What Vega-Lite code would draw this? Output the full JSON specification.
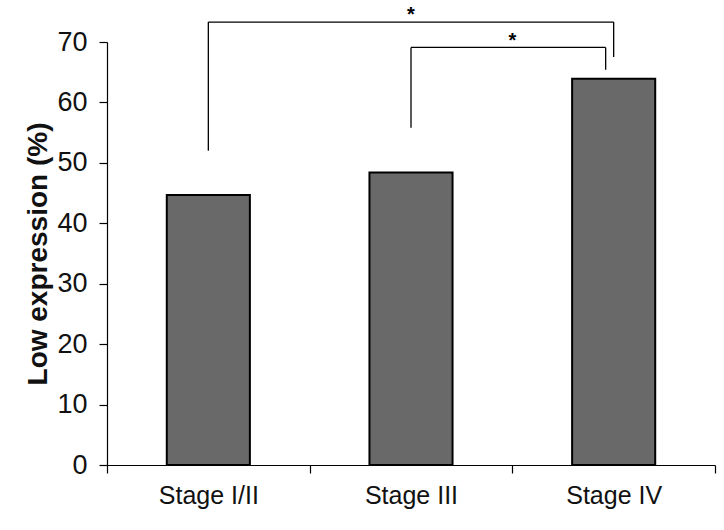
{
  "$schema": "https://vega.github.io/schema/vega-lite/v6.json",
  "width": 608,
  "height": 423,
  "autosize": {"type": "none"},
  "padding": {"left": 107, "top": 42, "right": 9, "bottom": 65},
  "background": "white",
  "config": {
    "view": {"stroke": null},
    "font": "Liberation Sans",
    "axis": {"grid": false, "domainColor": "#000", "tickColor": "#000", "labelColor": "#111", "titleColor": "#111", "domainWidth": 1.2, "tickWidth": 1.2}
  },
  "datasets": {
    "bars": [
      {"stage": "Stage I/II", "value": 44.7},
      {"stage": "Stage III", "value": 48.4},
      {"stage": "Stage IV", "value": 63.9}
    ],
    "hlines": [
      {"from": "Stage I/II", "to": "Stage IV", "y": 73.3}
    ],
    "hlines2": [
      {"from": "Stage III", "to": "Stage IV", "y": 69.1}
    ],
    "vlines": [
      {"stage": "Stage I/II", "y1": 52.0, "y2": 73.3},
      {"stage": "Stage IV", "y1": 67.5, "y2": 73.3},
      {"stage": "Stage III", "y1": 55.8, "y2": 69.1}
    ],
    "vlines2": [
      {"stage": "Stage IV", "y1": 65.4, "y2": 69.1}
    ],
    "stars1": [
      {"stage": "Stage III", "y": 74.4, "label": "*"}
    ],
    "stars2": [
      {"stage": "Stage IV", "y": 70.2, "label": "*"}
    ]
  },
  "layer": [
    {
      "data": {"name": "bars"},
      "mark": {"type": "bar", "color": "#696969", "stroke": "#000", "strokeWidth": 2, "width": {"band": 0.41}},
      "encoding": {
        "x": {
          "field": "stage", "type": "nominal", "sort": null,
          "scale": {"paddingInner": 0, "paddingOuter": 0},
          "axis": {"title": null, "labelAngle": 0, "labelFontSize": 25, "tickSize": 8, "tickBand": "extent", "labelPadding": 10}
        },
        "y": {
          "field": "value", "type": "quantitative",
          "scale": {"domain": [0, 70], "nice": false},
          "axis": {"title": "Low expression (%)", "titleFontSize": 28, "titleFontWeight": "bold", "titlePadding": 4, "labelFontSize": 27, "tickSize": 8, "labelPadding": 12, "values": [0, 10, 20, 30, 40, 50, 60, 70]}
        }
      }
    },
    {
      "data": {"name": "hlines"},
      "mark": {"type": "rule", "color": "#000", "strokeWidth": 1.3},
      "encoding": {
        "x": {"field": "from", "type": "nominal", "sort": null},
        "x2": {"field": "to"},
        "y": {"field": "y", "type": "quantitative"}
      }
    },
    {
      "data": {"name": "hlines2"},
      "mark": {"type": "rule", "color": "#000", "strokeWidth": 1.3, "x2Offset": -8},
      "encoding": {
        "x": {"field": "from", "type": "nominal", "sort": null},
        "x2": {"field": "to"},
        "y": {"field": "y", "type": "quantitative"}
      }
    },
    {
      "data": {"name": "vlines"},
      "mark": {"type": "rule", "color": "#000", "strokeWidth": 1.3},
      "encoding": {
        "x": {"field": "stage", "type": "nominal", "sort": null},
        "y": {"field": "y1", "type": "quantitative"},
        "y2": {"field": "y2"}
      }
    },
    {
      "data": {"name": "vlines2"},
      "mark": {"type": "rule", "color": "#000", "strokeWidth": 1.3, "xOffset": -8},
      "encoding": {
        "x": {"field": "stage", "type": "nominal", "sort": null},
        "y": {"field": "y1", "type": "quantitative"},
        "y2": {"field": "y2"}
      }
    },
    {
      "data": {"name": "stars1"},
      "mark": {"type": "text", "fontSize": 20, "fontWeight": "bold", "color": "#000", "baseline": "middle"},
      "encoding": {
        "x": {"field": "stage", "type": "nominal", "sort": null},
        "y": {"field": "y", "type": "quantitative"},
        "text": {"field": "label"}
      }
    },
    {
      "data": {"name": "stars2"},
      "mark": {"type": "text", "fontSize": 20, "fontWeight": "bold", "color": "#000", "baseline": "middle"},
      "encoding": {
        "x": {"field": "stage", "type": "nominal", "sort": null, "bandPosition": 0},
        "y": {"field": "y", "type": "quantitative"},
        "text": {"field": "label"}
      }
    }
  ]
}
